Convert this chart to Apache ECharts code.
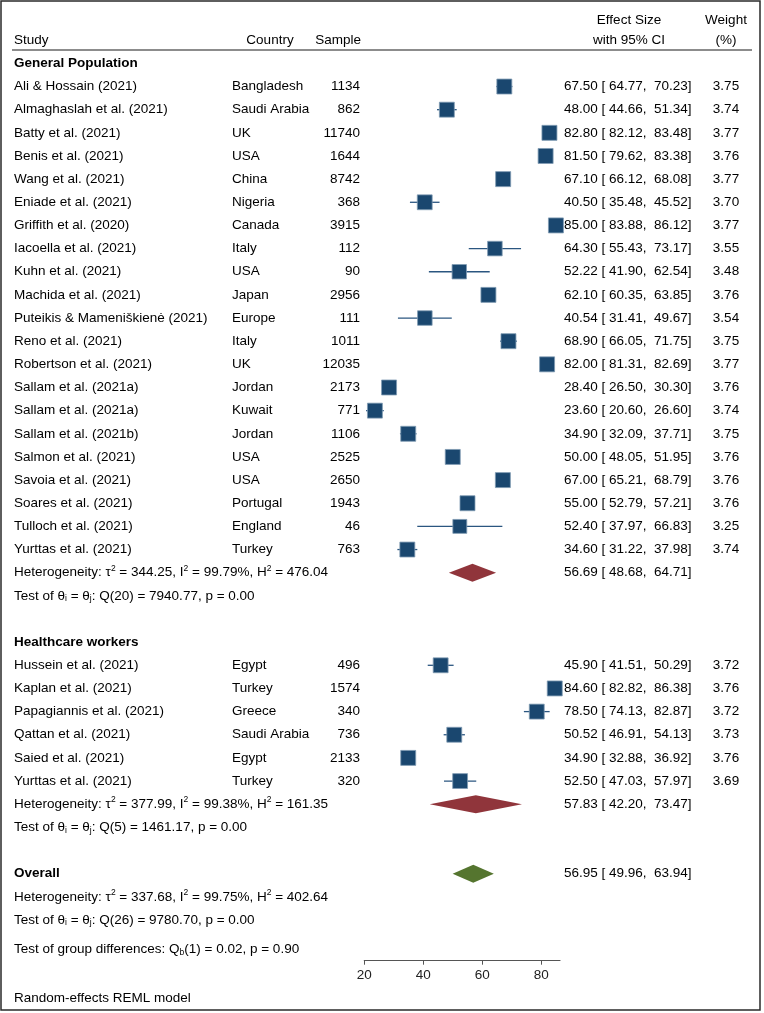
<!DOCTYPE html>
<html>
<head>
<meta charset="utf-8">
<script src="https://cdn.jsdelivr.net/npm/echarts@6/dist/echarts.min.js"></script>
<style>
html,body{margin:0;padding:0;background:#fff;}
#chart{width:764px;height:1013px;}
</style>
</head>
<body>
<div id="chart"></div>
<script>
// ---------- DATA ----------
const gpStudies = ["Ali & Hossain (2021)", "Almaghaslah et al. (2021)", "Batty et al. (2021)", "Benis et al. (2021)", "Wang et al. (2021)", "Eniade et al. (2021)", "Griffith et al. (2020)", "Iacoella et al. (2021)", "Kuhn et al. (2021)", "Machida et al. (2021)", "Puteikis & Mameniškienė (2021)", "Reno et al. (2021)", "Robertson et al. (2021)", "Sallam et al. (2021a)", "Sallam et al. (2021a)", "Sallam et al. (2021b)", "Salmon et al. (2021)", "Savoia et al. (2021)", "Soares et al. (2021)", "Tulloch et al. (2021)", "Yurttas et al. (2021)"];
const gpCountries = ["Bangladesh", "Saudi Arabia", "UK", "USA", "China", "Nigeria", "Canada", "Italy", "USA", "Japan", "Europe", "Italy", "UK", "Jordan", "Kuwait", "Jordan", "USA", "USA", "Portugal", "England", "Turkey"];
const gpSamples = [1134, 862, 11740, 1644, 8742, 368, 3915, 112, 90, 2956, 111, 1011, 12035, 2173, 771, 1106, 2525, 2650, 1943, 46, 763];
const gpES = [67.50, 48.00, 82.80, 81.50, 67.10, 40.50, 85.00, 64.30, 52.22, 62.10, 40.54, 68.90, 82.00, 28.40, 23.60, 34.90, 50.00, 67.00, 55.00, 52.40, 34.60];
const gpLo = [64.77, 44.66, 82.12, 79.62, 66.12, 35.48, 83.88, 55.43, 41.90, 60.35, 31.41, 66.05, 81.31, 26.50, 20.60, 32.09, 48.05, 65.21, 52.79, 37.97, 31.22];
const gpHi = [70.23, 51.34, 83.48, 83.38, 68.08, 45.52, 86.12, 73.17, 62.54, 63.85, 49.67, 71.75, 82.69, 30.30, 26.60, 37.71, 51.95, 68.79, 57.21, 66.83, 37.98];
const gpWeights = [3.75, 3.74, 3.77, 3.76, 3.77, 3.70, 3.77, 3.55, 3.48, 3.76, 3.54, 3.75, 3.77, 3.76, 3.74, 3.75, 3.76, 3.76, 3.76, 3.25, 3.74];

const hwStudies = ["Hussein et al. (2021)", "Kaplan et al. (2021)", "Papagiannis et al. (2021)", "Qattan et al. (2021)", "Saied et al. (2021)", "Yurttas et al. (2021)"];
const hwCountries = ["Egypt", "Turkey", "Greece", "Saudi Arabia", "Egypt", "Turkey"];
const hwSamples = [496, 1574, 340, 736, 2133, 320];
const hwES = [45.90, 84.60, 78.50, 50.52, 34.90, 52.50];
const hwLo = [41.51, 82.82, 74.13, 46.91, 32.88, 47.03];
const hwHi = [50.29, 86.38, 82.87, 54.13, 36.92, 57.97];
const hwWeights = [3.72, 3.76, 3.72, 3.73, 3.76, 3.69];

// pooled estimates [es, lo, hi]
const gpPooled = [56.69, 48.68, 64.71];
const hwPooled = [57.83, 42.20, 73.47];
const overallPooled = [56.95, 49.96, 63.94];

// heterogeneity [tau2, I2, H2, df, Q, p]
const gpHet = ["344.25", "99.79", "476.04", 20, "7940.77", "0.00"];
const hwHet = ["377.99", "99.38", "161.35", 5, "1461.17", "0.00"];
const overallHet = ["337.68", "99.75", "402.64", 26, "9780.70", "0.00"];
const groupDiff = [1, "0.02", "0.90"];

const groupLabels = ["General Population", "Healthcare workers", "Overall"];
const headerLabels = ["Study", "Country", "Sample", "Effect Size", "with 95% CI", "Weight", "(%)"];
const xTicks = [20, 40, 60, 80];
const footNote = "Random-effects REML model";

// ---------- LAYOUT ----------
const FONT = '"Liberation Sans", Arial, sans-serif';
const FS = 13.5;
const fNorm = FS + 'px ' + FONT;
const fBold = 'bold ' + FS + 'px ' + FONT;
const X_STUDY = 14, X_COUNTRY = 232, X_SAMPLE = 360, X_ES = 564, X_ES_C = 629, X_W = 726;

const fmt = v => v.toFixed(2);
const esText = (e, l, h) => fmt(e) + ' [ ' + fmt(l) + ',  ' + fmt(h) + ']';

const texts = [];   // {row, x, align, text, font, rich}
const studyMarks = []; // [es,row,lo,hi,w]
const diamonds = [];   // [es,row,lo,hi,colorIdx]

// headers
texts.push({row: -2, x: X_STUDY, align: 'left', text: headerLabels[0]});
texts.push({row: -2, x: 270, align: 'center', text: headerLabels[1]});
texts.push({row: -2, x: 361, align: 'right', text: headerLabels[2]});
texts.push({row: -2.85, x: X_ES_C, align: 'center', text: headerLabels[3]});
texts.push({row: -2, x: X_ES_C, align: 'center', text: headerLabels[4]});
texts.push({row: -2.85, x: X_W, align: 'center', text: headerLabels[5]});
texts.push({row: -2, x: X_W, align: 'center', text: headerLabels[6]});

const rich = {
  sup: {font: '8.5px ' + FONT, padding: [0, 0, 9, 0]},
  sub: {font: '8.5px ' + FONT, padding: [6, 0, 0, 0]}
};
function hetLines(h, row) {
  texts.push({row: row, x: X_STUDY, align: 'left', rich: true,
    text: 'Heterogeneity: τ{sup|2} = ' + h[0] + ', I{sup|2} = ' + h[1] + '%, H{sup|2} = ' + h[2]});
  texts.push({row: row + 1, x: X_STUDY, align: 'left', rich: true,
    text: 'Test of θ{sub|i} = θ{sub|j}: Q(' + h[3] + ') = ' + h[4] + ', p = ' + h[5]});
}
function addGroup(label, startRow, studies, countries, samples, es, lo, hi, w, pooled, het, color) {
  texts.push({row: startRow - 1, x: X_STUDY, align: 'left', text: label, font: fBold});
  for (let i = 0; i < studies.length; i++) {
    const r = startRow + i;
    texts.push({row: r, x: X_STUDY, align: 'left', text: studies[i]});
    texts.push({row: r, x: X_COUNTRY, align: 'left', text: countries[i]});
    texts.push({row: r, x: X_SAMPLE, align: 'right', text: String(samples[i])});
    texts.push({row: r, x: X_ES, align: 'left', text: esText(es[i], lo[i], hi[i])});
    texts.push({row: r, x: X_W, align: 'center', text: fmt(w[i])});
    studyMarks.push([es[i], r, lo[i], hi[i], w[i]]);
  }
  const pr = startRow + studies.length;
  diamonds.push([pooled[0], pr, pooled[1], pooled[2], color]);
  texts.push({row: pr, x: X_ES, align: 'left', text: esText(pooled[0], pooled[1], pooled[2])});
  hetLines(het, pr);
  return pr + 3;
}
let next = addGroup(groupLabels[0], 0, gpStudies, gpCountries, gpSamples, gpES, gpLo, gpHi, gpWeights, gpPooled, gpHet, 0);
next = addGroup(groupLabels[1], next + 1, hwStudies, hwCountries, hwSamples, hwES, hwLo, hwHi, hwWeights, hwPooled, hwHet, 0);
// overall
const ovRow = next;
texts.push({row: ovRow, x: X_STUDY, align: 'left', text: groupLabels[2], font: fBold});
diamonds.push([overallPooled[0], ovRow, overallPooled[1], overallPooled[2], 1]);
texts.push({row: ovRow, x: X_ES, align: 'left', text: esText(overallPooled[0], overallPooled[1], overallPooled[2])});
hetLines(overallHet, ovRow + 1);
texts.push({row: ovRow + 3.28, x: X_STUDY, align: 'left', rich: true,
  text: 'Test of group differences: Q{sub|b}(' + groupDiff[0] + ') = ' + groupDiff[1] + ', p = ' + groupDiff[2]});
texts.push({row: ovRow + 5.37, x: X_STUDY, align: 'left', text: footNote});

const allHi = gpHi.concat(hwHi);
const allLo = gpLo.concat(hwLo);
const xMin = Math.min(xTicks[0], Math.min.apply(null, allLo));
const xMax = Math.max(xTicks[xTicks.length - 1], Math.max.apply(null, allHi));

const diamondColors = ['#90353b', '#55752f'];
const chart = echarts.init(document.getElementById('chart'), null, {renderer: 'canvas'});
chart.setOption({
  animation: false,
  backgroundColor: '#fff',
  textStyle: {fontFamily: FONT},
  grid: {left: 364.3, width: 195.7, top: 5.5, height: 955.2, containLabel: false},
  xAxis: {
    type: 'value', min: xMin, max: xMax, interval: 20,
    axisLine: {show: true, onZero: false, lineStyle: {color: '#555', width: 1.2}},
    axisTick: {show: true, length: 4, lineStyle: {color: '#555', width: 1}},
    axisLabel: {show: true, fontSize: FS, color: '#222', margin: 8, fontFamily: FONT,
      showMinLabel: true, showMaxLabel: false},
    splitLine: {show: false}
  },
  yAxis: {type: 'value', inverse: true, min: -3.5, max: 37.76, show: false},
  graphic: [
    {type: 'rect', shape: {x: 1, y: 1, width: 759, height: 1009},
     style: {fill: 'none', stroke: '#2a2a2a', lineWidth: 1.5}, z: 100},
    {type: 'line', shape: {x1: 12, y1: 50, x2: 752, y2: 50},
     style: {stroke: '#1a1a1a', lineWidth: 1.2}}
  ],
  series: [
    {
      type: 'custom', name: 'studies', clip: false,
      data: studyMarks, encode: {x: 0, y: 1},
      renderItem: function (params, api) {
        const p = api.coord([api.value(0), api.value(1)]);
        const l = api.coord([api.value(2), api.value(1)]);
        const h = api.coord([api.value(3), api.value(1)]);
        const s = 15 * Math.sqrt(api.value(4) / 3.77);
        return {type: 'group', children: [
          {type: 'line', shape: {x1: l[0], y1: l[1], x2: h[0], y2: h[1]},
           style: {stroke: '#2b5680', lineWidth: 1.3}},
          {type: 'rect', shape: {x: p[0] - s / 2, y: p[1] - s / 2, width: s, height: s},
           style: {fill: '#1a476f', stroke: '#7f9ab3', lineWidth: 0.8}}
        ]};
      }
    },
    {
      type: 'custom', name: 'pooled', clip: false,
      data: diamonds, encode: {x: 0, y: 1},
      renderItem: function (params, api) {
        const p = api.coord([api.value(0), api.value(1)]);
        const l = api.coord([api.value(2), api.value(1)]);
        const h = api.coord([api.value(3), api.value(1)]);
        const hh = 9;
        return {type: 'polygon', shape: {points: [[l[0], p[1]], [p[0], p[1] - hh], [h[0], p[1]], [p[0], p[1] + hh]]},
          style: {fill: diamondColors[api.value(4)]}};
      }
    },
    {
      type: 'custom', name: 'texts', clip: false,
      data: texts.map((t, i) => [xMin, t.row, i]), encode: {x: 0, y: 1},
      renderItem: function (params, api) {
        const t = texts[api.value(2)];
        const y = api.coord([xMin, api.value(1)])[1];
        const style = {text: t.text, x: t.x, y: y, font: t.font || fNorm, fill: '#000',
          textAlign: t.align, textVerticalAlign: 'middle'};
        if (t.rich) style.rich = rich;
        return {type: 'text', style: style};
      }
    }
  ]
});
</script>
</body>
</html>
